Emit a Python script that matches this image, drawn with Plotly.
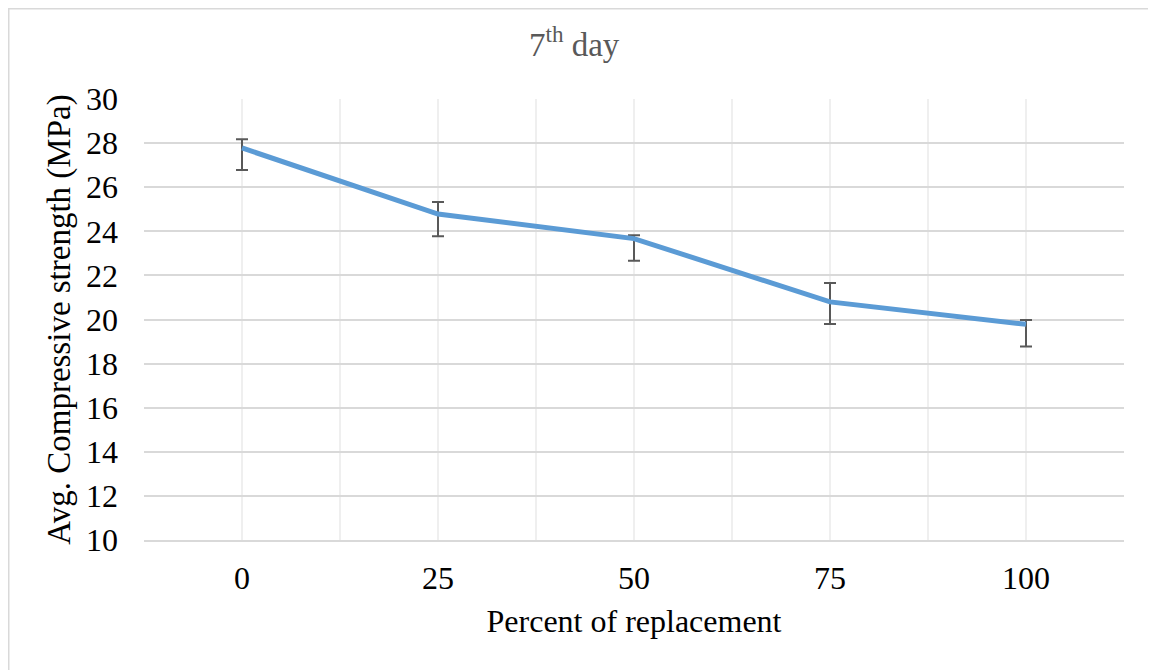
import plotly.graph_objects as go

# Data
percent_replacement = [0, 25, 50, 75, 100]
avg_strength = [27.78, 24.78, 23.67, 20.8, 19.78]
err_plus = [0.4, 0.55, 0.15, 0.85, 0.2]
err_minus = [1.0, 1.0, 1.0, 1.0, 1.0]
y_ticks = [10, 12, 14, 16, 18, 20, 22, 24, 26, 28, 30]

step = percent_replacement[1] - percent_replacement[0]
boundaries = [percent_replacement[0] - step / 2] + [v + step / 2 for v in percent_replacement]

# plot area in figure pixels (page has an 8px body margin)
PL, PR, PT, PB = 136, 1116, 91, 532
PW, PH = PR - PL, PB - PT

fig = go.Figure()
fig.add_trace(go.Scatter(
    x=percent_replacement,
    y=avg_strength,
    mode="lines",
    line=dict(color="#5b9bd5", width=5),
    error_y=dict(
        type="data",
        symmetric=False,
        array=err_plus,
        arrayminus=err_minus,
        color="#595959",
        thickness=2,
        width=6,
    ),
    showlegend=False,
))

font_family = "Liberation Serif, Times New Roman, serif"
FS = 32

fig.update_layout(
    width=1156,
    height=670,
    margin=dict(l=PL, r=1156 - PR, t=PT, b=670 - PB, autoexpand=False),
    paper_bgcolor="white",
    plot_bgcolor="white",
    font=dict(family=font_family, size=FS, color="black"),
    annotations=[dict(
        text="7<sup>th</sup> day",
        xref="paper", yref="paper",
        x=(566 - PL) / PW, y=(PB - 57) / PH,
        xanchor="center", yanchor="bottom",
        showarrow=False,
        font=dict(family=font_family, size=33, color="#595959"),
    )],
    shapes=[dict(
        type="rect", xref="paper", yref="paper",
        x0=(0.75 - PL) / PW, x1=(1143 - PL) / PW,
        y0=(PB - 680) / PH, y1=(PB - 0.75) / PH,
        line=dict(color="#d9d9d9", width=1.5),
        fillcolor="rgba(0,0,0,0)",
        layer="below",
    )],
)

fig.update_xaxes(
    range=[boundaries[0], boundaries[-1]],
    tickvals=percent_replacement,
    ticktext=[str(v) for v in percent_replacement],
    showgrid=True,
    gridcolor="#efefef",
    gridwidth=1.5,
    minor=dict(tickvals=boundaries, showgrid=True, gridcolor="#efefef", gridwidth=1.5),
    zeroline=False,
    showline=True,
    linecolor="#d9d9d9",
    linewidth=1.5,
    ticks="",
    ticklabelstandoff=9,
    title=dict(text="Percent of replacement", standoff=14,
               font=dict(family=font_family, size=FS, color="black")),
    tickfont=dict(family=font_family, size=FS, color="black"),
)

fig.update_yaxes(
    range=[y_ticks[0], y_ticks[-1]],
    tickvals=y_ticks,
    showgrid=True,
    gridcolor="#d9d9d9",
    gridwidth=1.5,
    zeroline=False,
    ticks="",
    ticklabelstandoff=25,
    title=dict(text="Avg. Compressive strength (MPa)", standoff=5,
               font=dict(family=font_family, size=33, color="black")),
    tickfont=dict(family=font_family, size=FS, color="black"),
)

fig.write_html("out.html")
